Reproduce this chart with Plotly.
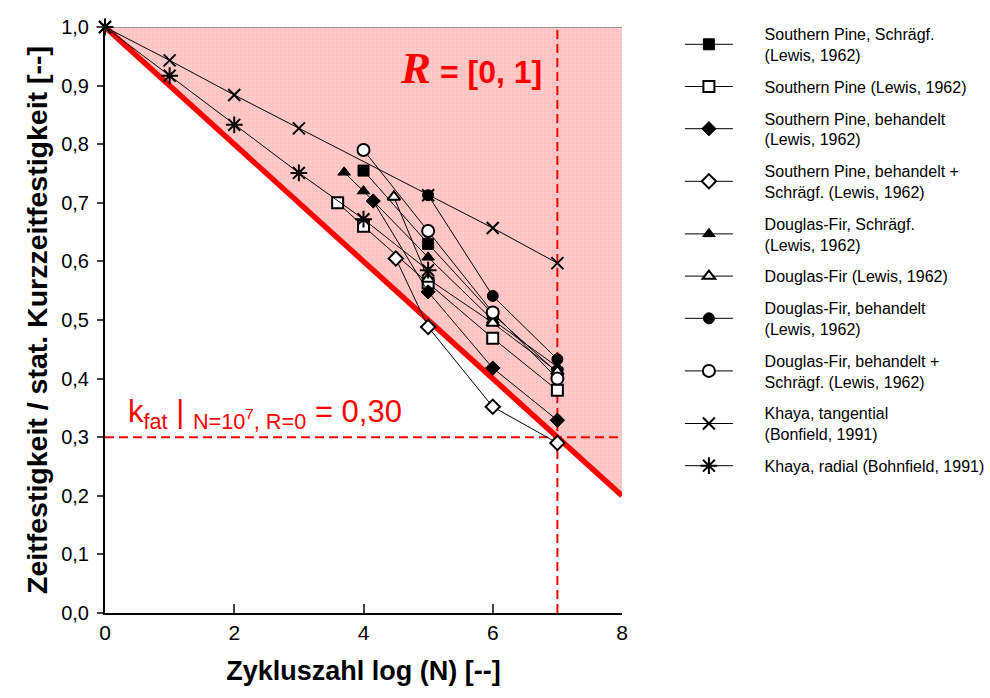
import plotly.graph_objects as go

# ---- data ----
sp_schraeg_x = [4, 5, 6, 7]
sp_schraeg_y = [0.755, 0.63, 0.51, 0.41]
sp_x = [3.6, 4, 5, 6, 7]
sp_y = [0.70, 0.66, 0.563, 0.469, 0.38]
sp_beh_x = [4.15, 5, 6, 7]
sp_beh_y = [0.703, 0.548, 0.418, 0.329]
sp_beh_schraeg_x = [4.5, 5, 6, 7]
sp_beh_schraeg_y = [0.605, 0.488, 0.352, 0.29]
df_schraeg_x = [3.7, 4, 5, 6, 7]
df_schraeg_y = [0.752, 0.72, 0.607, 0.50, 0.42]
df_x = [4.47, 5, 6, 7]
df_y = [0.71, 0.57, 0.495, 0.412]
df_beh_x = [5, 6, 7]
df_beh_y = [0.713, 0.541, 0.433]
df_beh_schraeg_x = [4, 5, 6, 7]
df_beh_schraeg_y = [0.79, 0.652, 0.513, 0.40]
khaya_tan_x = [0, 1, 2, 3, 5, 6, 7]
khaya_tan_y = [1.0, 0.943, 0.884, 0.827, 0.713, 0.657, 0.597]
khaya_rad_x = [0, 1, 2, 3, 4, 5]
khaya_rad_y = [1.0, 0.917, 0.833, 0.751, 0.672, 0.585]

limit_x = [0, 8]
limit_y = [1.0, 0.2]
region_x = [0, 8, 8, 0]
region_y = [1.0, 1.0, 0.2, 1.0]
n_ref = 7
k_fat = 0.30

x_ticks = [0, 2, 4, 6, 8]
y_ticks = [0.0, 0.1, 0.2, 0.3, 0.4, 0.5, 0.6, 0.7, 0.8, 0.9, 1.0]

names = [
    "Southern Pine, Schrägf.<br>(Lewis, 1962)",
    "Southern Pine (Lewis, 1962)",
    "Southern Pine, behandelt<br>(Lewis, 1962)",
    "Southern Pine, behandelt +<br>Schrägf. (Lewis, 1962)",
    "Douglas-Fir, Schrägf.<br>(Lewis, 1962)",
    "Douglas-Fir (Lewis, 1962)",
    "Douglas-Fir, behandelt<br>(Lewis, 1962)",
    "Douglas-Fir, behandelt +<br>Schrägf. (Lewis, 1962)",
    "Khaya, tangential<br>(Bonfield, 1991)",
    "Khaya, radial (Bohnfield, 1991)",
]

FONT = "Liberation Sans, Arial, sans-serif"
RED = "#ff0000"
PAD = "\u00a0" * 6


def padded(label):
    return "<br>".join(PAD + part for part in label.split("<br>"))


fig = go.Figure()

# shaded region R = [0,1]
fig.add_trace(go.Scatter(
    x=region_x, y=region_y, mode="lines", fill="toself",
    fillcolor="#ffc8c8",
    fillpattern=dict(shape="+", bgcolor="#ffc0c0", fgcolor="#ffeaea", size=4, solidity=0.3),
    line=dict(width=0), hoverinfo="skip", showlegend=False))

# top border line
fig.add_trace(go.Scatter(x=limit_x, y=[1.0, 1.0], mode="lines",
                         line=dict(color="#808080", width=1.5),
                         hoverinfo="skip", showlegend=False))

# dashed reference lines
fig.add_trace(go.Scatter(x=[n_ref, n_ref], y=[0, 1.0], mode="lines",
                         line=dict(color=RED, width=2, dash="9px,5px"),
                         hoverinfo="skip", showlegend=False))
fig.add_trace(go.Scatter(x=limit_x, y=[k_fat, k_fat], mode="lines",
                         line=dict(color=RED, width=2, dash="9px,5px"),
                         hoverinfo="skip", showlegend=False))

# red limit line
fig.add_trace(go.Scatter(x=limit_x, y=limit_y, mode="lines",
                         line=dict(color=RED, width=5.5),
                         hoverinfo="skip", showlegend=False))

series = [
    (sp_schraeg_x, sp_schraeg_y, "square", "black"),
    (sp_x, sp_y, "square", "white"),
    (sp_beh_x, sp_beh_y, "diamond", "black"),
    (sp_beh_schraeg_x, sp_beh_schraeg_y, "diamond", "white"),
    (df_schraeg_x, df_schraeg_y, "triangle-up", "black"),
    (df_x, df_y, "triangle-up", "white"),
    (df_beh_x, df_beh_y, "circle", "black"),
    (df_beh_schraeg_x, df_beh_schraeg_y, "circle", "white"),
    (khaya_tan_x, khaya_tan_y, "x-thin", "black"),
    (khaya_rad_x, khaya_rad_y, "asterisk", "black"),
]
sizes = [11, 11, 11, 11, 11, 11, 11, 12, 12, 14]

for i, ((xs, ys, sym, fill), nm) in enumerate(zip(series, names)):
    fig.add_trace(go.Scatter(
        x=xs, y=ys, mode="lines+markers", name=padded(nm), legendgroup=f"g{i}",
        line=dict(color="black", width=1),
        marker=dict(symbol=sym, size=sizes[i], color=fill,
                    line=dict(color="black", width=2 if sym in ("x-thin", "asterisk") or fill == "white" else 1)),
        cliponaxis=False))

fig.add_annotation(
    x=5.67, y=0.93, xref="x", yref="y", showarrow=False,
    text="<span style='font-family:Liberation Serif, Times New Roman, serif;font-size:45px;font-style:italic;font-weight:bold'>R</span>"
         "<b> = [0, 1]</b>",
    font=dict(family=FONT, size=32, color=RED))

fig.add_annotation(
    x=0.33, y=0.3, xref="x", yref="y", xanchor="left", yanchor="bottom", yshift=1,
    showarrow=False,
    text="k<sub>fat</sub> | <sub>N=10<sup>7</sup>, R=0</sub> = 0,30",
    font=dict(family=FONT, size=31, color=RED))

fig.update_layout(
    width=990, height=698,
    margin=dict(l=105, r=368, t=27, b=85, autoexpand=False),
    paper_bgcolor="white", plot_bgcolor="white",
    separators=", ",
    font=dict(family=FONT, size=20, color="black"),
    showlegend=True,
    legend=dict(x=1.112, y=(613 - 483) / 586, xanchor="left", yanchor="bottom",
                font=dict(family=FONT, size=16, color="black"),
                tracegroupgap=8, itemwidth=48, bgcolor="rgba(0,0,0,0)"),
    xaxis=dict(range=[0, 8], tickvals=x_ticks, ticks="inside", ticklen=9, tickwidth=2,
               showline=True, linecolor="black", linewidth=2, showgrid=False, zeroline=False,
               tickfont=dict(size=21), automargin=False,
               title=dict(text="<b>Zykluszahl log (N) [--]</b>", font=dict(size=27), standoff=18)),
    yaxis=dict(range=[0, 1.0], tickvals=y_ticks, tickformat=".1f", ticks="outside", ticklen=6, tickwidth=2,
               ticklabelstandoff=4, automargin=False,
               showline=True, linecolor="black", linewidth=2, showgrid=False, zeroline=False,
               tickfont=dict(size=20),
               title=dict(text="<b>Zeitfestigkeit / stat. Kurzzeitfestigkeit [--]</b>", font=dict(size=28.5), standoff=5)),
)

fig.write_html("out.html")
